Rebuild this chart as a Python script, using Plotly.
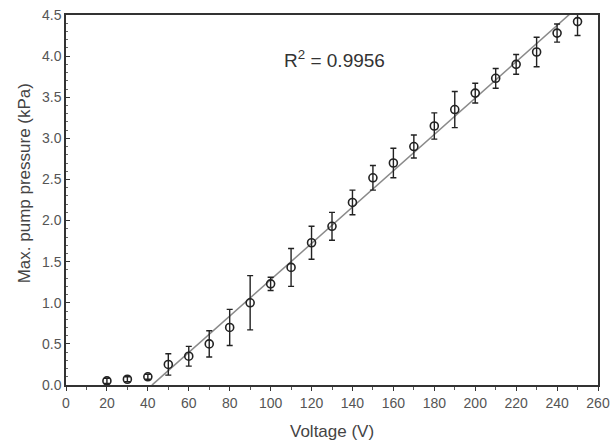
import plotly.graph_objects as go

voltage = [20, 30, 40, 50, 60, 70, 80, 90, 100, 110, 120, 130, 140, 150, 160, 170, 180, 190, 200, 210, 220, 230, 240, 250]
pressure = [0.05, 0.07, 0.10, 0.25, 0.35, 0.50, 0.70, 1.00, 1.23, 1.43, 1.73, 1.93, 2.22, 2.52, 2.70, 2.90, 3.15, 3.35, 3.55, 3.73, 3.90, 4.05, 4.28, 4.42]
error = [0.03, 0.03, 0.03, 0.13, 0.12, 0.16, 0.22, 0.33, 0.08, 0.23, 0.20, 0.17, 0.15, 0.15, 0.18, 0.14, 0.16, 0.22, 0.12, 0.12, 0.12, 0.18, 0.11, 0.17]

fit_slope = 0.0221
fit_intercept = -0.93
fit_x = [42, 252]
fit_y = [fit_slope * v + fit_intercept for v in fit_x]

x_ticks = list(range(0, 261, 20))
y_ticks = [0.0, 0.5, 1.0, 1.5, 2.0, 2.5, 3.0, 3.5, 4.0, 4.5]

x_title = "Voltage (V)"
y_title = "Max. pump pressure (kPa)"
r2_text = "R<sup>2</sup> = 0.9956"

font_family = "Liberation Sans, Arial, sans-serif"

fig = go.Figure()
fig.add_trace(go.Scatter(
    x=fit_x, y=fit_y, mode="lines",
    line=dict(color="#8a8a8a", width=1.5),
    showlegend=False, hoverinfo="skip"))
fig.add_trace(go.Scatter(
    x=voltage, y=pressure, mode="markers",
    marker=dict(symbol="circle-open", size=8, color="#222222", line=dict(width=1.6, color="#222222")),
    error_y=dict(type="data", array=error, visible=True, color="#222222", thickness=1.4, width=3),
    showlegend=False))

fig.add_annotation(x=131, y=3.96, xref="x", yref="y", text=r2_text,
                   showarrow=False, font=dict(size=19, color="#333333", family=font_family))

# axis titles
fig.add_annotation(x=0.5, y=-0.127, xref="paper", yref="paper", text=x_title,
                   showarrow=False, xanchor="center", yanchor="middle",
                   font=dict(size=17, color="#444444", family=font_family))
fig.add_annotation(x=-0.079, y=0.545, xref="paper", yref="paper", text=y_title,
                   showarrow=False, xanchor="center", yanchor="middle", textangle=-90,
                   font=dict(size=17, color="#444444", family=font_family))

fig.update_layout(
    width=613, height=446,
    margin=dict(l=66, r=15, t=15, b=61),
    paper_bgcolor="white", plot_bgcolor="white",
    font=dict(family=font_family, color="#444444", size=12),
    xaxis=dict(
        range=[0, 260], tickvals=x_ticks, ticktext=[str(t) for t in x_ticks],
        showgrid=False, zeroline=False, showline=True, linecolor="#333333", linewidth=1.5,
        mirror=True, ticks="outside", ticklen=4, tickcolor="#333333", automargin=False,
        minor=dict(dtick=10, ticks="outside", ticklen=3, tickcolor="#555555"),
        tickfont=dict(size=14, color="#555555")),
    yaxis=dict(
        range=[0, 4.5], tickvals=y_ticks, ticktext=[f"{t:.1f}" for t in y_ticks],
        showgrid=False, zeroline=False, showline=True, linecolor="#333333", linewidth=1.5,
        mirror=True, ticks="inside", ticklen=4, tickcolor="#333333", automargin=False,
        minor=dict(dtick=0.1, ticks="inside", ticklen=2, tickcolor="#666666"),
        tickfont=dict(size=14, color="#555555")),
)

fig.write_html("out.html", config={"displayModeBar": False},
               post_script="document.body.style.margin='0';document.body.style.overflow='hidden';")
